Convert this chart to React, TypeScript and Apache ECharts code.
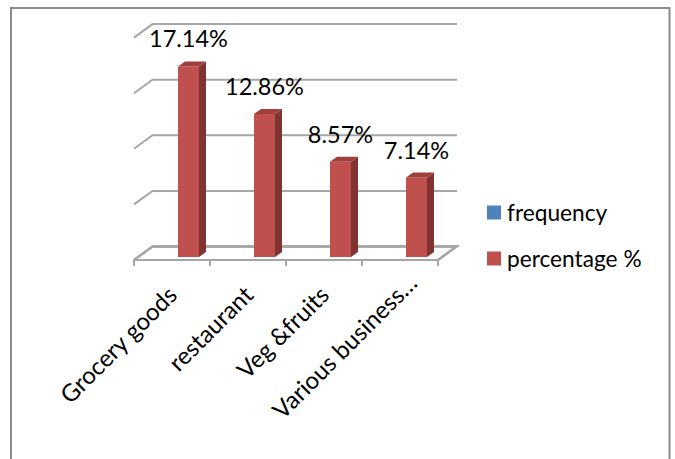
import React, { useEffect, useRef } from "react";
import * as echarts from "echarts";

const categories = ["Grocery goods", "restaurant", "Veg &fruits", "Various business…"];
const percentage = [17.14, 12.86, 8.57, 7.14];
const frequency: number[] = [];
const wallTicks = [5, 10, 15, 20];

const FONT = "Lato, 'Open Sans', sans-serif";
const DX = 18.5;
const DY = 13.5;
const GREY = "#A6A6A6";

export default function App() {
  const ref = useRef<HTMLDivElement>(null);
  useEffect(() => {
    const chart = echarts.init(ref.current!, undefined, { renderer: "svg" });
    const lineStyle = { stroke: GREY, lineWidth: 2, fill: "none" };
    chart.setOption({
      animation: false,
      backgroundColor: "#fff",
      graphic: [
        {
          type: "rect",
          silent: true,
          shape: { x: 11, y: 8, width: 658.5, height: 470 },
          style: { fill: "none", stroke: "#8C8C8C", lineWidth: 2 },
        },
      ],
      legend: {
        orient: "vertical",
        left: 487,
        top: 199,
        padding: 0,
        itemWidth: 14,
        itemHeight: 14,
        itemGap: 19,
        selectedMode: false,
        textStyle: { fontFamily: FONT, fontSize: 22.7, color: "#000", padding: [0, 0, 0, 1], lineHeight: 27 },
        data: [
          { name: "frequency", icon: "rect", itemStyle: { color: "#4F81BD" } },
          { name: "percentage %", icon: "rect", itemStyle: { color: "#C0504D" } },
        ],
      },
      grid: { left: 134, top: 37.6, width: 304, height: 222.4 },
      xAxis: {
        type: "category",
        data: categories.map((c, i) =>
          i === 3 ? { value: c, textStyle: { padding: [0, -17, 0, 0] } } : { value: c }
        ),
        axisLine: { show: true, lineStyle: { color: GREY, width: 2 } },
        axisTick: { show: true, length: 6, alignWithLabel: false, lineStyle: { color: GREY, width: 2 } },
        axisLabel: {
          interval: 0,
          rotate: 45,
          margin: 30,
          fontFamily: FONT,
          fontSize: 24,
          color: "#000",
        },
        splitLine: { show: false },
      },
      yAxis: {
        type: "value",
        min: 0,
        max: 20,
        interval: 5,
        axisLine: { show: false },
        axisTick: { show: false },
        axisLabel: { show: false },
        splitLine: { show: false },
      },
      series: [
        {
          name: "walls",
          type: "custom",
          coordinateSystem: "cartesian2d",
          silent: true,
          data: wallTicks.map((t) => [0, t]),
          z: 1,
          renderItem: (_p: any, api: any) => {
            const y = api.coord([0, api.value(1)])[1];
            const zero = api.coord([0, 0])[1];
            const x0 = 134;
            const x1 = 438;
            return {
              type: "group",
              children: [
                { type: "polyline", shape: { points: [[x0, y], [x0 + DX, y - DY], [x1 + DX + 0.5, y - DY]] }, style: lineStyle },
                { type: "polyline", shape: { points: [[x0, zero], [x0 + DX, zero - DY], [x1 + DX, zero - DY], [x1, zero]] }, style: lineStyle },
              ],
            };
          },
        },
        {
          name: "frequency",
          type: "custom",
          coordinateSystem: "cartesian2d",
          data: frequency,
          itemStyle: { color: "#4F81BD" },
          renderItem: () => null,
        },
        {
          name: "percentage %",
          type: "custom",
          coordinateSystem: "cartesian2d",
          itemStyle: { color: "#C0504D" },
          encode: { x: 0, y: 1 },
          z: 3,
          data: percentage.map((v, i) => [i, v]),
          renderItem: (_p: any, api: any) => {
            const v = api.value(1);
            const [cx, top0] = api.coord([api.value(0), v]);
            const base0 = api.coord([api.value(0), 0])[1];
            const lift = 3;
            const l = cx + 6;
            const r = l + 21;
            const top = top0 - lift;
            const base = base0 - lift;
            const d = 7;
            const e = 5;
            return {
              type: "group",
              children: [
                { type: "rect", shape: { x: l, y: top, width: 21, height: base - top }, style: { fill: "#C0504D" } },
                { type: "polygon", shape: { points: [[r, top], [r + d, top - e], [r + d, base - e], [r, base]] }, style: { fill: "#7F3432" } },
                { type: "polygon", shape: { points: [[l, top], [l + d, top - e], [r + d, top - e], [r, top]] }, style: { fill: "#9E3F3C" } },
                {
                  type: "text",
                  style: {
                    x: (l + r) / 2,
                    y: top - 28,
                    text: v.toFixed(2) + "%",
                    fill: "#000",
                    font: `23.5px ${FONT}`,
                    align: "center",
                    verticalAlign: "middle",
                  },
                },
              ],
            };
          },
        },
      ],
    });
    return () => chart.dispose();
  }, []);
  return (
    <div
      ref={ref}
      style={{ position: "absolute", left: 0, top: 0, width: 675, height: 459 }}
    />
  );
}
